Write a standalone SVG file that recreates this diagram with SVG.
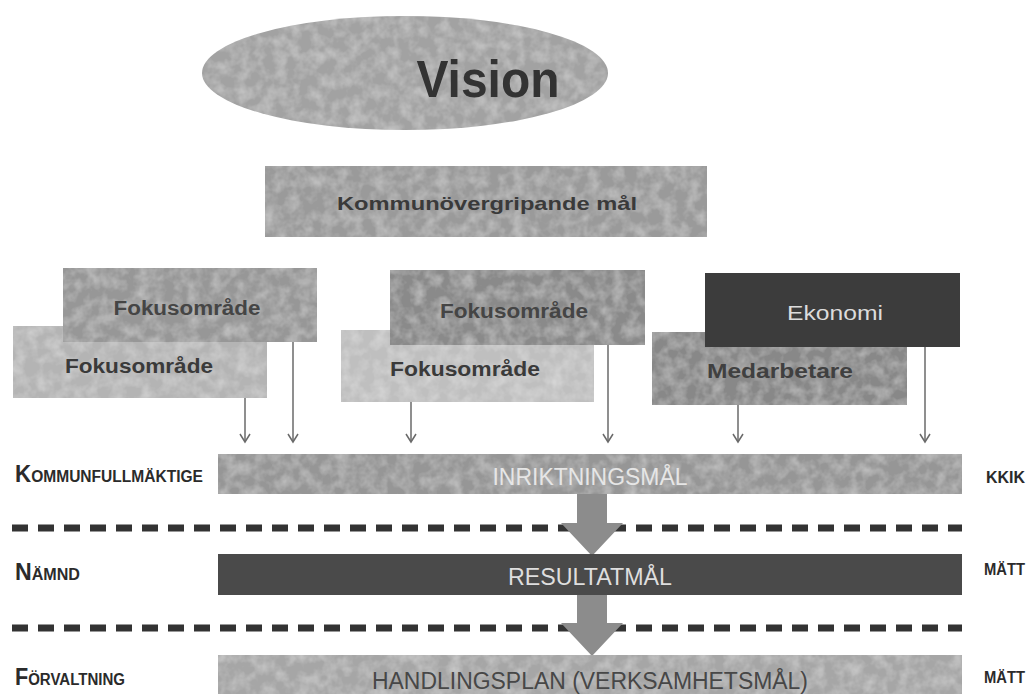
<svg xmlns="http://www.w3.org/2000/svg" width="1033" height="694" viewBox="0 0 1033 694">
<style>
.lbl{font-family:"Liberation Sans",Arial,sans-serif;font-weight:bold;fill:#2b2b2b}
.box{filter:url(#tex)}
.bt{font-family:"Liberation Sans",Arial,sans-serif;font-weight:bold;fill:#3a3a3a;text-anchor:middle}
.lt{font-family:"Liberation Sans",Arial,sans-serif;fill:#e6e6e6;text-anchor:middle}
.thin{stroke:#6a6a6a;stroke-width:1.5;fill:none;marker-end:url(#open)}
.dash{stroke:#333;stroke-width:7;stroke-dasharray:16 10;fill:none}
.big{fill:#8c8c8c}
</style>
<defs>
<filter id="tex" x="0" y="0" width="1" height="1">
<feTurbulence type="fractalNoise" baseFrequency="0.08" numOctaves="3" seed="4" result="n"/>
<feColorMatrix in="n" type="matrix" values="0 0 0 0 1 0 0 0 0 1 0 0 0 0 1 0.55 0 0 0 -0.2" result="w"/>
<feComposite in="w" in2="SourceGraphic" operator="in" result="wm"/>
<feMerge><feMergeNode in="SourceGraphic"/><feMergeNode in="wm"/></feMerge>
</filter>
<marker id="open" viewBox="0 0 12 12" refX="10" refY="6" markerWidth="12" markerHeight="12" markerUnits="userSpaceOnUse" orient="auto">
<path d="M2 1 L10 6 L2 11" fill="none" stroke="#6a6a6a" stroke-width="1.5"/>
</marker>
</defs>
<rect width="1033" height="694" fill="#ffffff"/>

<g id="vision">
<ellipse class="box" cx="405" cy="73" rx="203" ry="57" fill="#a2a2a2"/>
<text x="488" y="97" class="bt" font-size="52" style="fill:#333" textLength="143" lengthAdjust="spacingAndGlyphs">Vision</text>
</g>

<g id="kommunovergripande">
<rect class="box" x="265" y="166" width="442" height="71" fill="#9a9a9a"/>
<text x="487" y="210" class="bt" font-size="19" textLength="300" lengthAdjust="spacingAndGlyphs">Kommunövergripande mål</text>
</g>

<g id="fokus-left-bottom">
<rect class="box" x="13" y="326" width="254" height="72" fill="#b4b4b4"/>
<text x="139" y="373" class="bt" font-size="20" textLength="148" lengthAdjust="spacingAndGlyphs">Fokusområde</text>
</g>
<g id="fokus-left-top">
<rect class="box" x="63" y="268" width="254" height="74" fill="#979797"/>
<text x="187" y="315" class="bt" font-size="20" style="fill:#454545" textLength="147" lengthAdjust="spacingAndGlyphs">Fokusområde</text>
</g>

<g id="fokus-mid-bottom">
<rect class="box" x="341" y="330" width="253" height="72" fill="#bfbfbf"/>
<text x="465" y="376" class="bt" font-size="20" textLength="150" lengthAdjust="spacingAndGlyphs">Fokusområde</text>
</g>
<g id="fokus-mid-top">
<rect class="box" x="390" y="270" width="255" height="75" fill="#8a8a8a"/>
<text x="514" y="318" class="bt" font-size="20" style="fill:#454545" textLength="148" lengthAdjust="spacingAndGlyphs">Fokusområde</text>
</g>

<g id="medarbetare">
<rect class="box" x="652" y="332" width="255" height="73" fill="#888888"/>
<text x="780" y="378" class="bt" font-size="20" style="fill:#404040" textLength="146" lengthAdjust="spacingAndGlyphs">Medarbetare</text>
</g>
<g id="ekonomi">
<rect x="705" y="273" width="255" height="74" fill="#3c3c3c"/>
<text x="835" y="320" class="lt" font-size="21" style="fill:#dcdcdc" textLength="96" lengthAdjust="spacingAndGlyphs">Ekonomi</text>
</g>

<g id="connectors">
<line class="thin" x1="245" y1="398" x2="245" y2="442"/>
<line class="thin" x1="293" y1="342" x2="293" y2="442"/>
<line class="thin" x1="411" y1="402" x2="411" y2="442"/>
<line class="thin" x1="608" y1="345" x2="608" y2="442"/>
<line class="thin" x1="738" y1="405" x2="738" y2="442"/>
<line class="thin" x1="925" y1="347" x2="925" y2="442"/>
<line class="dash" x1="12" y1="528" x2="962" y2="528"/>
<line class="dash" x1="12" y1="628" x2="962" y2="628"/>
<path class="big" d="M577 493 H607 V523 H623 L592 556 L561 523 H577 Z"/>
<path class="big" d="M577 593 H607 V623 H623 L592 656 L561 623 H577 Z"/>
</g>

<g id="inriktningsmal">
<rect class="box" x="218" y="454" width="744" height="40" fill="#969696"/>
<text x="590" y="485" class="lt" font-size="23" textLength="195" lengthAdjust="spacingAndGlyphs">INRIKTNINGSMÅL</text>
</g>
<g id="resultatmal">
<rect x="218" y="554" width="744" height="41" fill="#4a4a4a"/>
<text x="590" y="585" class="lt" font-size="23" style="fill:#dedede" textLength="164" lengthAdjust="spacingAndGlyphs">RESULTATMÅL</text>
</g>
<g id="handlingsplan">
<rect class="box" x="218" y="655" width="744" height="45" fill="#a6a6a6"/>
<text x="590" y="689" class="lt" font-size="23" style="fill:#474747" textLength="436" lengthAdjust="spacingAndGlyphs">HANDLINGSPLAN (VERKSAMHETSMÅL)</text>
</g>

<g id="labels-left">
<text class="lbl" x="15" y="482" textLength="188" lengthAdjust="spacingAndGlyphs"><tspan font-size="23">K</tspan><tspan font-size="16">OMMUNFULLMÄKTIGE</tspan></text>
<text class="lbl" x="15" y="580" textLength="65" lengthAdjust="spacingAndGlyphs"><tspan font-size="23">N</tspan><tspan font-size="16">ÄMND</tspan></text>
<text class="lbl" x="15" y="685" textLength="110" lengthAdjust="spacingAndGlyphs"><tspan font-size="23">F</tspan><tspan font-size="16">ÖRVALTNING</tspan></text>
</g>
<g id="labels-right">
<text class="lbl" x="986" y="483" font-size="17" textLength="39" lengthAdjust="spacingAndGlyphs">KKIK</text>
<text class="lbl" x="984" y="575" font-size="17" textLength="41" lengthAdjust="spacingAndGlyphs">MÄTT</text>
<text class="lbl" x="984" y="683" font-size="17" textLength="41" lengthAdjust="spacingAndGlyphs">MÄTT</text>
</g>
</svg>
